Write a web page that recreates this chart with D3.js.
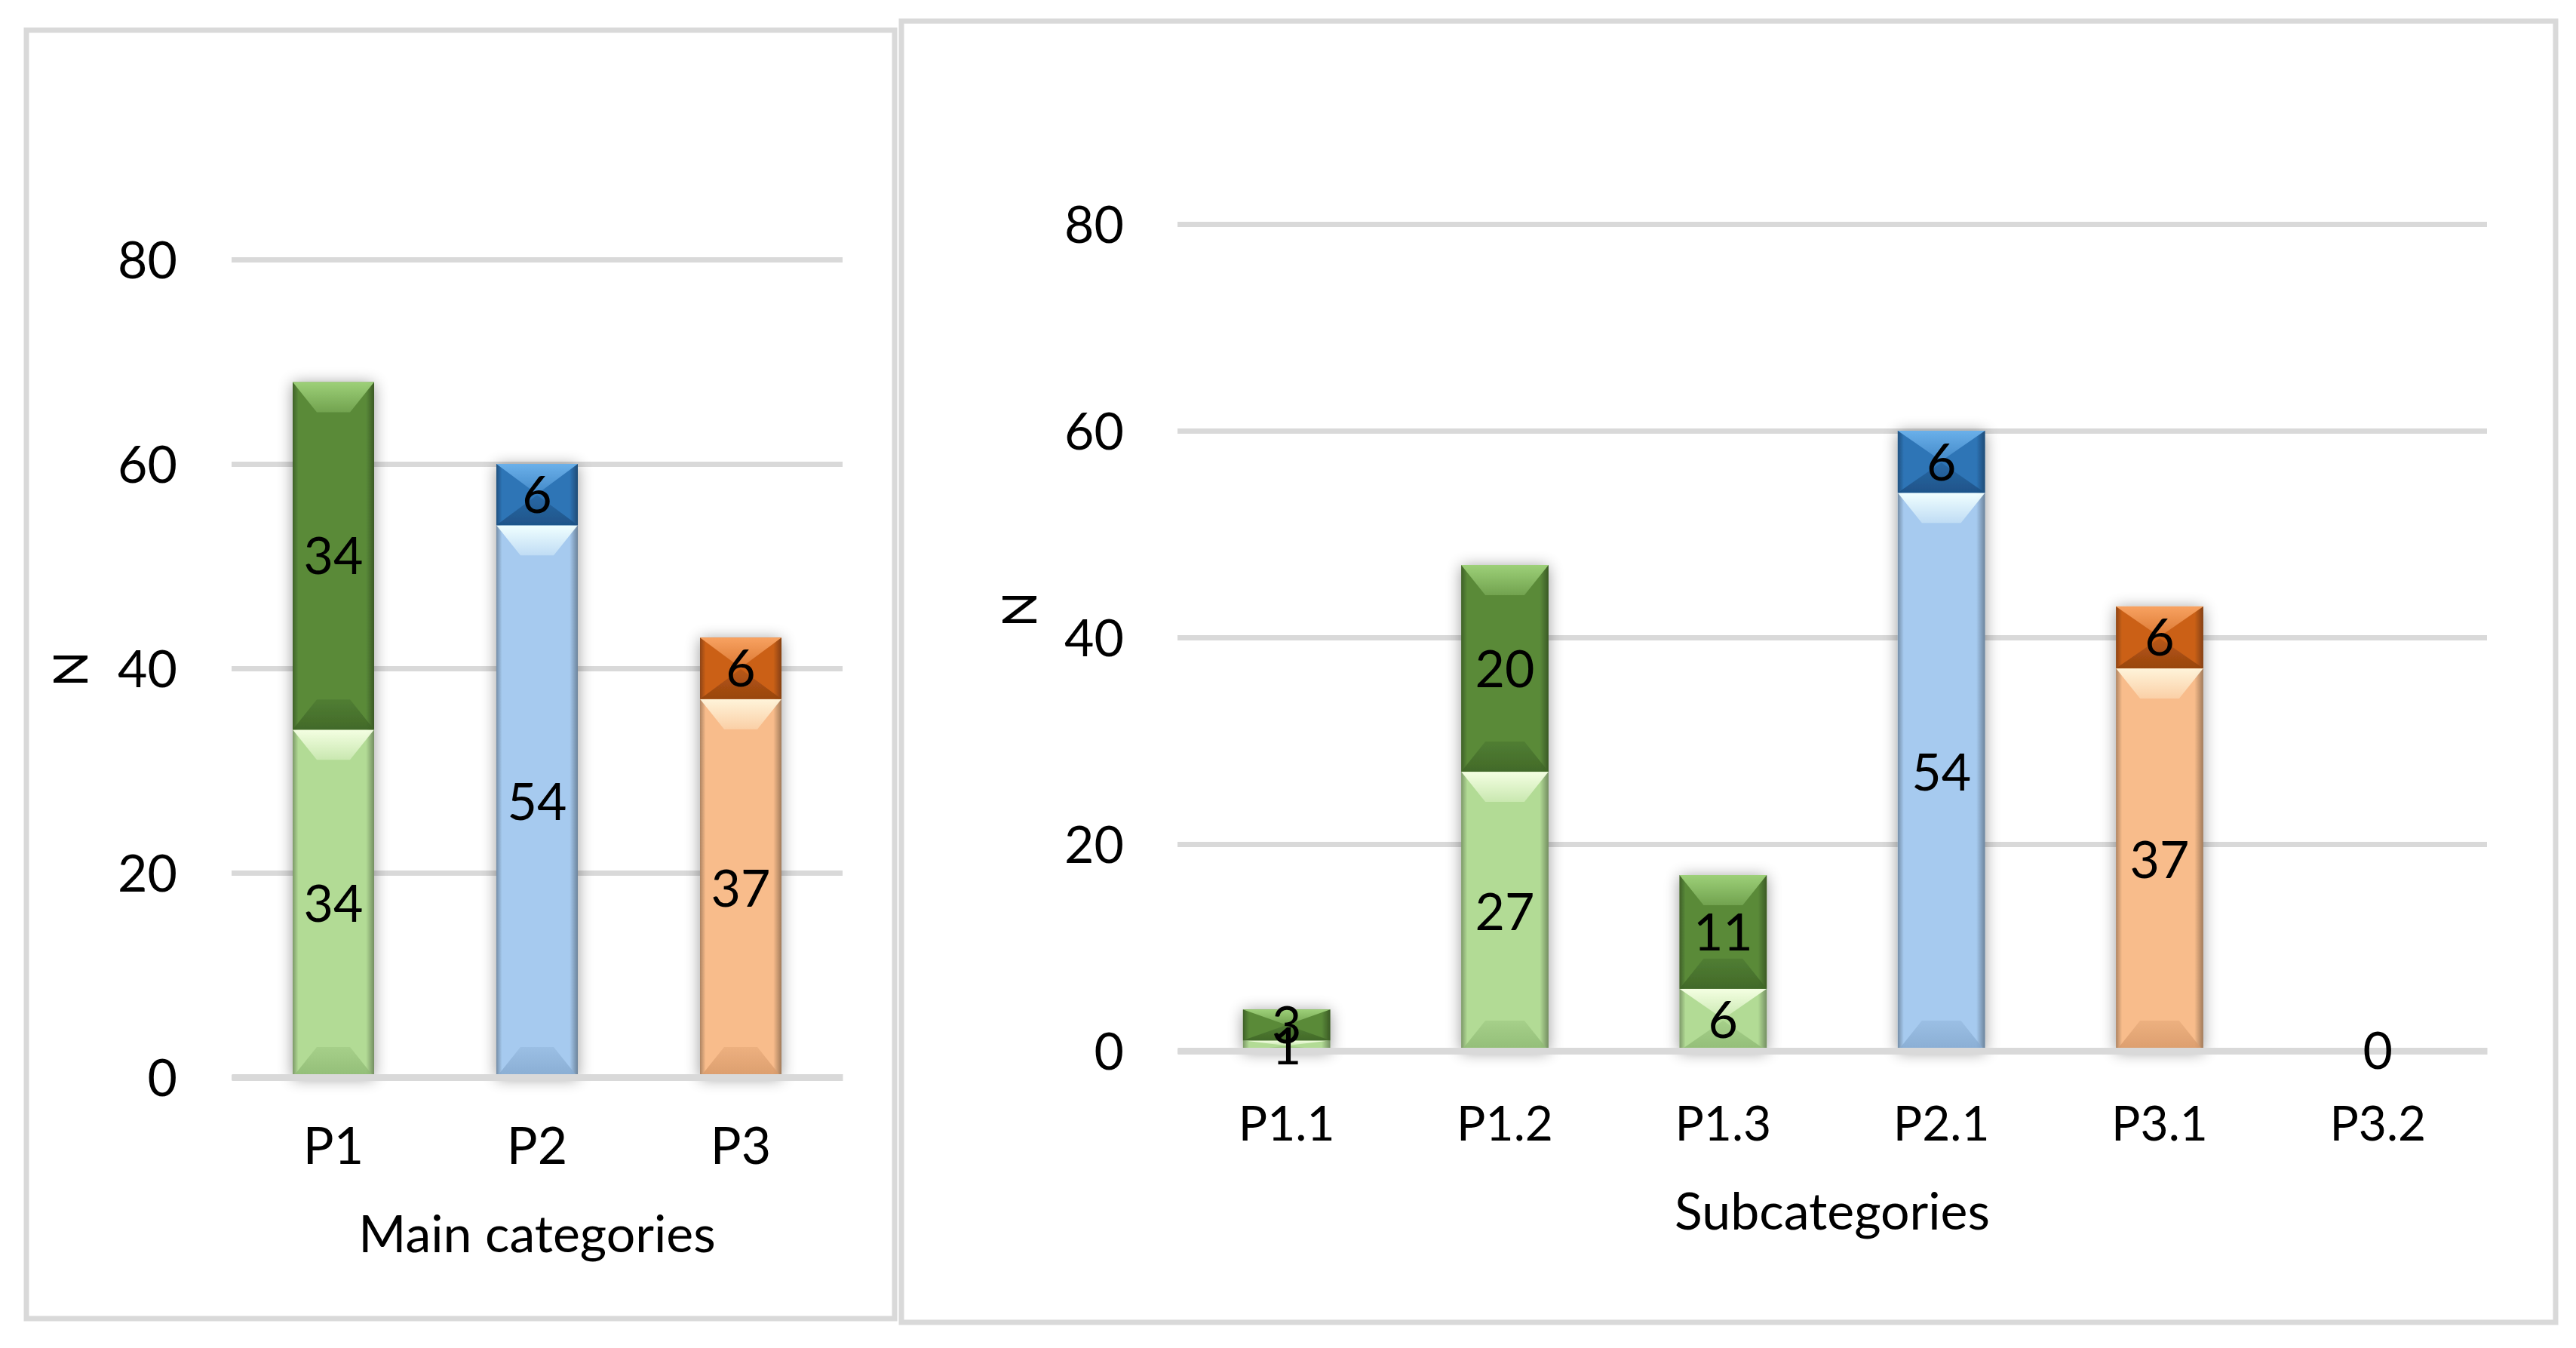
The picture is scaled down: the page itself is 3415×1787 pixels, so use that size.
<!DOCTYPE html>
<html>
<head>
<meta charset="utf-8">
<script src="https://cdn.jsdelivr.net/npm/d3@7"></script>
<style>
  body { margin: 0; background: #fff; }
  svg { display: block; font-family: Lato, "Open Sans", sans-serif; }
</style>
</head>
<body>
<div id="chart"></div>
<script>
// chart data
const mainCats = ["P1", "P2", "P3"];
const mainLower = [34, 54, 37];
const mainUpper = [34, 6, 6];
const mainGroup = ["green", "blue", "orange"];

const subCats = ["P1.1", "P1.2", "P1.3", "P2.1", "P3.1", "P3.2"];
const subLower = [1, 27, 6, 54, 37, 0];
const subUpper = [3, 20, 11, 6, 6, 0];
const subGroup = ["green", "green", "green", "blue", "orange", "orange"];

const yTicks = [0, 20, 40, 60, 80];
const yMax = 80;

// colours: two tones per group (lower segment light, upper segment dark)
const tones = {
  "green-light":  { base: "#b2db95", top: "#f4ffe2", bot: "#8fba74" },
  "green-dark":   { base: "#5a8a39", top: "#9dd078", bot: "#3f6627" },
  "blue-light":   { base: "#a6caef", top: "#f0ffff", bot: "#86aad0" },
  "blue-dark":    { base: "#2e74b6", top: "#6ab0ea", bot: "#1d5185" },
  "orange-light": { base: "#f8bc8b", top: "#fff4da", bot: "#d89a6a" },
  "orange-dark":  { base: "#cb6119", top: "#f8a261", bot: "#93430e" }
};

const W = 3415, H = 1787;
const fontSize = 68;

const svg = d3.select("#chart").append("svg")
    .attr("width", W)
    .attr("height", H);

svg.append("rect").attr("width", W).attr("height", H).attr("fill", "#fff");

// shared defs: shadow, side shading, bevel gradients
const defs = svg.append("defs");

const shadow = defs.append("filter").attr("id", "shadow")
    .attr("x", "-60%").attr("y", "-100%").attr("width", "220%").attr("height", "300%");
shadow.append("feGaussianBlur").attr("in", "SourceAlpha").attr("stdDeviation", 10);
shadow.append("feOffset").attr("dx", 0).attr("dy", 2).attr("result", "off");
shadow.append("feComponentTransfer").append("feFuncA").attr("type", "linear").attr("slope", 0.4);
const merge = shadow.append("feMerge");
merge.append("feMergeNode");
merge.append("feMergeNode").attr("in", "SourceGraphic");

const side = defs.append("linearGradient").attr("id", "side")
    .attr("x1", 0).attr("x2", 1).attr("y1", 0).attr("y2", 0);
[[0, 0.3], [0.07, 0], [0.9, 0], [1, 0.35]].forEach(function (s) {
    side.append("stop").attr("offset", s[0]).attr("stop-color", "#000").attr("stop-opacity", s[1]);
});

Object.keys(tones).forEach(function (k) {
    let t = tones[k];
    let top = defs.append("linearGradient").attr("id", "top-" + k)
        .attr("x1", 0).attr("x2", 0).attr("y1", 0).attr("y2", 1);
    top.append("stop").attr("offset", 0).attr("stop-color", t.top).attr("stop-opacity", 1);
    top.append("stop").attr("offset", 1).attr("stop-color", t.top).attr("stop-opacity", 0.35);
    let bot = defs.append("linearGradient").attr("id", "bot-" + k)
        .attr("x1", 0).attr("x2", 0).attr("y1", 0).attr("y2", 1);
    bot.append("stop").attr("offset", 0).attr("stop-color", t.bot).attr("stop-opacity", 0.35);
    bot.append("stop").attr("offset", 1).attr("stop-color", t.bot).attr("stop-opacity", 0.9);
});

function drawSegment(sel, x0, y0, w, h, key) {
    const b = Math.min(40, h / 2);
    const dx = h < 120 ? w / 2 : b * 0.8;
    const x1 = x0 + w, y1 = y0 + h;
    sel.append("rect").attr("x", x0).attr("y", y0).attr("width", w).attr("height", h)
        .attr("fill", tones[key].base);
    sel.append("rect").attr("x", x0).attr("y", y0).attr("width", w).attr("height", h)
        .attr("fill", "url(#side)");
    sel.append("polygon")
        .attr("points", [[x0, y0], [x1, y0], [x1 - dx, y0 + b], [x0 + dx, y0 + b]].join(" "))
        .attr("fill", "url(#top-" + key + ")");
    sel.append("polygon")
        .attr("points", [[x0, y1], [x1, y1], [x1 - dx, y1 - b], [x0 + dx, y1 - b]].join(" "))
        .attr("fill", "url(#bot-" + key + ")");
}

function drawPanel(cfg, cats, lower, upper, groups) {
    const g = svg.append("g");

    // panel frame
    g.append("rect")
        .attr("x", cfg.box[0]).attr("y", cfg.box[1])
        .attr("width", cfg.box[2] - cfg.box[0]).attr("height", cfg.box[3] - cfg.box[1])
        .attr("fill", "none").attr("stroke", "#d9d9d9").attr("stroke-width", 7);

    const x = d3.scaleBand().domain(cats).range([cfg.x0, cfg.x1]);
    const y = d3.scaleLinear().domain([0, yMax]).range([cfg.yBase, cfg.yTop]);

    // gridlines and y labels
    const yAxis = g.append("g")
        .attr("transform", "translate(" + cfg.x0 + ",0)")
        .call(d3.axisLeft(y).tickValues(yTicks).tickSize(-(cfg.x1 - cfg.x0)).tickPadding(cfg.tickPad));
    yAxis.attr("font-family", null).attr("font-size", fontSize);
    yAxis.select(".domain").remove();
    yAxis.selectAll(".tick line").attr("stroke", "#d9d9d9").attr("stroke-width", 7);
    yAxis.selectAll(".tick text").attr("fill", "#000").attr("dy", "0.36em");

    const rows = cats.map(function (c, i) {
        return { cat: c, lower: lower[i], upper: upper[i], group: groups[i] };
    });
    const bw = x.bandwidth() * 0.4;

    // stacked bars
    rows.forEach(function (d) {
        const bar = g.append("g").attr("filter", "url(#shadow)");
        const bx = x(d.cat) + (x.bandwidth() - bw) / 2;
        const segs = [
            { v0: 0, v1: d.lower, key: d.group + "-light" },
            { v0: d.lower, v1: d.lower + d.upper, key: d.group + "-dark" }
        ];
        segs.forEach(function (s) {
            if (s.v1 <= s.v0) return;
            drawSegment(bar, bx, y(s.v1), bw, y(s.v0) - y(s.v1), s.key);
        });
    });

    // x axis line and category labels
    const xAxis = g.append("g")
        .attr("transform", "translate(0," + cfg.yBase + ")")
        .call(d3.axisBottom(x).tickSize(0).tickSizeOuter(0));
    xAxis.attr("font-family", null).attr("font-size", cfg.xFont);
    xAxis.select(".domain").attr("stroke", "#d9d9d9").attr("stroke-width", 9);
    xAxis.selectAll(".tick text").attr("fill", "#000").attr("y", cfg.xLabelOff).attr("dy", null);

    // data labels
    rows.forEach(function (d) {
        const cx = x(d.cat) + x.bandwidth() / 2;
        const labels = [{ v: d.lower, mid: d.lower / 2 }];
        if (d.lower + d.upper > 0) labels.push({ v: d.upper, mid: d.lower + d.upper / 2 });
        labels.forEach(function (l) {
            g.append("text")
                .attr("x", cx).attr("y", y(l.mid)).attr("dy", "0.36em")
                .attr("text-anchor", "middle").attr("font-size", fontSize).attr("fill", "#000")
                .text(l.v);
        });
    });

    // axis titles
    g.append("text")
        .attr("x", (cfg.x0 + cfg.x1) / 2).attr("y", cfg.titleY)
        .attr("text-anchor", "middle").attr("font-size", fontSize)
        .text(cfg.title);
    g.append("text")
        .attr("transform", "translate(" + cfg.nX + "," + cfg.nY + ") rotate(-90)")
        .attr("dy", "0.36em").attr("text-anchor", "middle").attr("font-size", 62)
        .text("N");
}

drawPanel({
    box: [35, 40, 1186, 1748],
    x0: 307, x1: 1117, yBase: 1428, yTop: 344,
    tickPad: 72, xFont: fontSize, xLabelOff: 115, titleY: 1660,
    nX: 94, nY: 887, title: "Main categories"
}, mainCats, mainLower, mainUpper, mainGroup);

drawPanel({
    box: [1195, 28, 3388, 1753],
    x0: 1561, x1: 3297, yBase: 1393, yTop: 297,
    tickPad: 71, xFont: 64, xLabelOff: 119, titleY: 1630,
    nX: 1352, nY: 808, title: "Subcategories"
}, subCats, subLower, subUpper, subGroup);
</script>
</body>
</html>
